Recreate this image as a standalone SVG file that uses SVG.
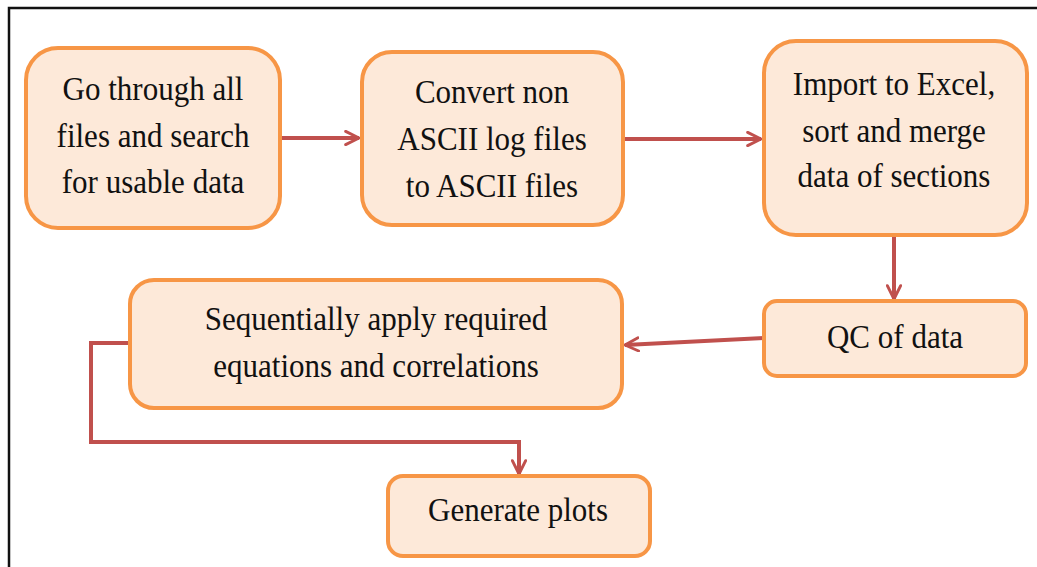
<svg xmlns="http://www.w3.org/2000/svg" width="1037" height="567" viewBox="0 0 1037 567">
  <style>
    .box { fill: #FDE9D9; stroke: #F79646; stroke-width: 4; }
    .conn { fill: none; stroke: #C0504D; stroke-width: 4; }
  </style>
  <defs>
    <marker id="arrow" viewBox="0 0 12 12" refX="11" refY="6" markerWidth="4" markerHeight="4" markerUnits="strokeWidth" orient="auto">
      <path d="M1,1 L11,6 L1,11" fill="none" stroke="#C0504D" stroke-width="2.2" stroke-linecap="round" stroke-linejoin="round"/>
    </marker>
  </defs>

  <rect width="1037" height="567" fill="#fff"/>
  <!-- frame -->
  <rect x="9" y="8" width="1040" height="600" fill="none" stroke="#111" stroke-width="2.5"/>

  <g id="connectors">
    <line class="conn" x1="280" y1="138" x2="359" y2="138" marker-end="url(#arrow)"/>
    <line class="conn" x1="623" y1="139" x2="761" y2="139" marker-end="url(#arrow)"/>
    <line class="conn" x1="894" y1="236" x2="894" y2="299" marker-end="url(#arrow)"/>
    <line class="conn" x1="764" y1="338" x2="625" y2="345" marker-end="url(#arrow)"/>
    <polyline class="conn" points="130,343 91,343 91,442 519,442 519,474" marker-end="url(#arrow)"/>
  </g>

  <!-- labels: Times-metric serif, slightly condensed -->
  <g font-family="Liberation Serif" font-size="33" fill="#111" text-anchor="middle">
    <g id="node-search">
      <rect class="box" x="26" y="48" width="254" height="180" rx="32"/>
      <text transform="translate(153,100) scale(0.94,1)">Go through all</text>
      <text transform="translate(153,147) scale(0.94,1)">files and search</text>
      <text transform="translate(153,193) scale(0.94,1)">for usable data</text>
    </g>

    <g id="node-convert">
      <rect class="box" x="362" y="52" width="261" height="173" rx="30"/>
      <text transform="translate(492,103) scale(0.94,1)">Convert non</text>
      <text transform="translate(492,150) scale(0.94,1)">ASCII log files</text>
      <text transform="translate(492,197) scale(0.94,1)">to ASCII files</text>
    </g>

    <g id="node-import">
      <rect class="box" x="764" y="41" width="263" height="194" rx="32"/>
      <text transform="translate(894,95) scale(0.94,1)">Import to Excel,</text>
      <text transform="translate(894,142) scale(0.94,1)">sort and merge</text>
      <text transform="translate(894,187) scale(0.94,1)">data of sections</text>
    </g>

    <g id="node-qc">
      <rect class="box" x="764" y="301" width="262" height="75" rx="13"/>
      <text transform="translate(895,348) scale(0.94,1)">QC of data</text>
    </g>

    <g id="node-apply">
      <rect class="box" x="130" y="280" width="492" height="128" rx="24"/>
      <text transform="translate(376,330) scale(0.94,1)">Sequentially apply required</text>
      <text transform="translate(376,377) scale(0.94,1)">equations and correlations</text>
    </g>

    <g id="node-plots">
      <rect class="box" x="388" y="476" width="262" height="80" rx="15"/>
      <text transform="translate(518,521) scale(0.94,1)">Generate plots</text>
    </g>
  </g>
</svg>
